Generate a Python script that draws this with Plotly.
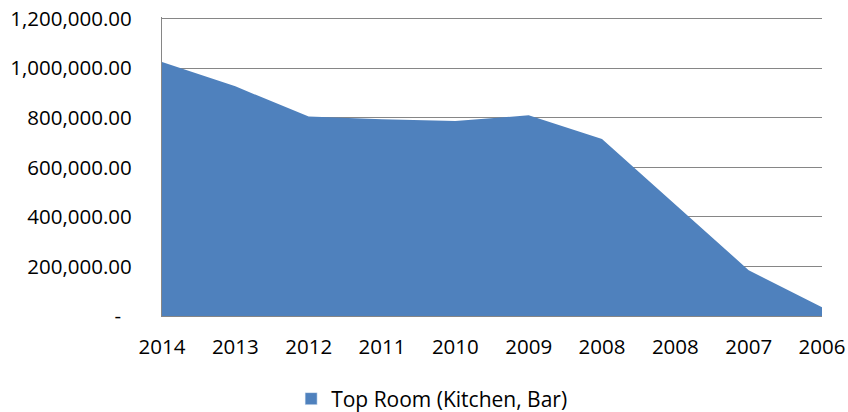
import plotly.graph_objects as go

categories = ["2014", "2013", "2012", "2011", "2010", "2009", "2008", "2008", "2007", "2006"]
values = [1025000, 927000, 805000, 794000, 787000, 810000, 715000, 452000, 185000, 35000]
series_name = "Top Room (Kitchen, Bar)"
y_tick_vals = [0, 200000, 400000, 600000, 800000, 1000000, 1200000]
y_tick_text = ["-\u00a0\u00a0", "200,000.00", "400,000.00", "600,000.00", "800,000.00", "1,000,000.00", "1,200,000.00"]

positions = list(range(len(categories)))
color = "#4F81BD"
font = dict(family="Open Sans, Liberation Sans, sans-serif", size=20.5, color="#000000")

fig = go.Figure()
fig.add_trace(go.Scatter(
    x=positions, y=values, mode="lines", fill="tozeroy",
    fillcolor=color, line=dict(color=color, width=0),
    showlegend=False, hoverinfo="x+y", name=series_name,
))
# legend proxy (square swatch like the original)
fig.add_trace(go.Bar(
    x=[None], y=[None], name=series_name, marker=dict(color=color),
    showlegend=True,
))

fig.update_layout(
    width=848, height=412,
    margin=dict(l=162, r=26, t=16.6, b=96, autoexpand=False),
    paper_bgcolor="white", plot_bgcolor="white",
    font=font,
    showlegend=True,
    legend=dict(orientation="h", xref="container", yref="container",
                x=0.509, xanchor="center", y=0.0316, yanchor="middle",
                font=dict(family=font["family"], size=21, color="#000000"),
                itemwidth=30, bgcolor="rgba(0,0,0,0)"),
    xaxis=dict(
        range=[0, 9], tickmode="array", tickvals=positions, ticktext=categories,
        showgrid=False, zeroline=False, showline=True, linecolor="#868686", linewidth=1.3,
        ticks="", ticklabelstandoff=12, fixedrange=True, automargin=False,
        ticklabeloverflow="allow",
    ),
    yaxis=dict(
        range=[0, 1207000], tickmode="array", tickvals=y_tick_vals, ticktext=y_tick_text,
        showgrid=True, gridcolor="#868686", gridwidth=1.3, zeroline=False,
        showline=True, linecolor="#868686", linewidth=1.3,
        ticks="", ticklabelstandoff=25, fixedrange=True, automargin=False,
        ticklabeloverflow="allow",
    ),
)

fig.write_html("out.html", config={"displayModeBar": False},
               post_script="document.body.style.margin='0';")
